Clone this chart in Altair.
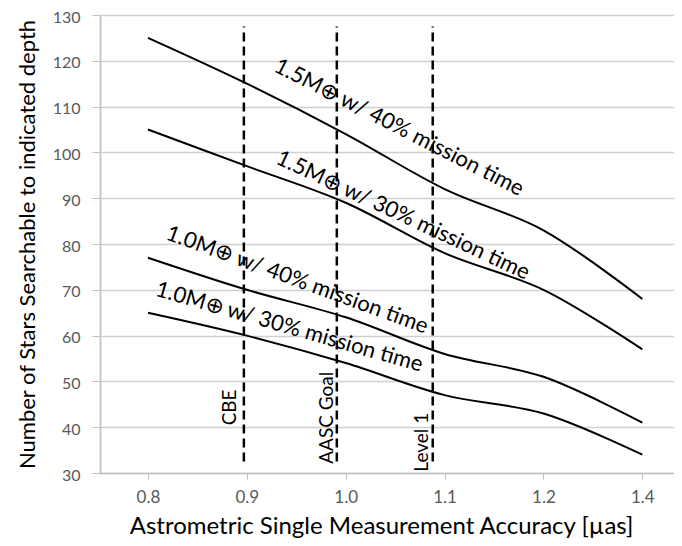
import altair as alt
import pandas as pd

# Categories (evenly spaced categorical axis)
categories = ["0.8", "0.9", "1.0", "1.1", "1.2", "1.4"]
cat_index = [0, 1, 2, 3, 4, 5]

# Series values
s_15_40 = [125, 115, 104, 92, 83, 68]
s_15_30 = [105, 97, 89, 78, 70, 57]
s_10_40 = [77, 70, 64, 56, 51, 41]
s_10_30 = [65, 60, 54, 47, 43, 34]
series_names = ["1.5M⊕ w/ 40% mission time", "1.5M⊕ w/ 30% mission time",
                "1.0M⊕ w/ 40% mission time", "1.0M⊕ w/ 30% mission time"]

# Curve label anchors (category index, value) and angles
label_x = [2.54, 2.58, 1.51, 1.43]
label_y = [105.5, 86.3, 72.2, 61.9]
label_angle = [27, 25, 20, 16]

# Reference lines (category-index position)
ref_names = ["CBE", "AASC Goal", "Level 1"]
ref_x = [0.97, 1.91, 2.88]
ref_y_top = [127.5, 127.5, 127.5]
ref_y_bottom = [32.5, 32.5, 32.5]
ref_label_x = [0.83, 1.807, 2.77]
ref_label_y = [40.4, 32.0, 30.3]

rows = []
for name, vals in zip(series_names, [s_15_40, s_15_30, s_10_40, s_10_30]):
    for i, v in zip(cat_index, vals):
        rows.append({"series": name, "x": i, "y": v})
lines_df = pd.DataFrame(rows)

labels_df = pd.DataFrame({"text": series_names, "x": label_x, "y": label_y, "angle": label_angle})
refs_df = pd.DataFrame({"name": ref_names, "x": ref_x, "y": ref_y_bottom, "y2": ref_y_top,
                        "lx": ref_label_x, "ly": ref_label_y})

FONT = "Lato"
label_expr = "[" + ",".join("'%s'" % c for c in categories) + "][datum.value]"

xscale = alt.Scale(domain=[-0.485, 5.32], nice=False, zero=False)
yscale = alt.Scale(domain=[30, 130], nice=False, zero=False)

x_axis = alt.Axis(values=cat_index, labelExpr=label_expr, title="Astrometric Single Measurement Accuracy [µas]",
                  grid=False, tickSize=6, tickColor="#bfbfbf", domainColor="#bfbfbf", domainWidth=1.5,
                  labelFont=FONT, labelFontSize=17, labelColor="#595959", labelPadding=10,
                  titleFont=FONT, titleFontSize=24, titleFontWeight="normal", titleColor="#000000",
                  titlePadding=9, titleX=281, titleAnchor="middle")
y_axis = alt.Axis(values=list(range(30, 131, 10)), title="Number of Stars Searchable to indicated depth",
                  grid=True, gridColor="#d0d0d0", gridWidth=1.5, tickSize=8, tickColor="#bfbfbf",
                  domainColor="#c8c8c8", domainWidth=2,
                  labelFont=FONT, labelFontSize=16, labelColor="#595959", labelPadding=12,
                  labelOffset=2,
                  titleFont=FONT, titleFontSize=22, titleFontWeight="normal", titleColor="#000000",
                  titlePadding=13)

lines = alt.Chart(lines_df).mark_line(color="black", strokeWidth=2, interpolate="catmull-rom").encode(
    x=alt.X("x:Q", scale=xscale, axis=x_axis),
    y=alt.Y("y:Q", scale=yscale, axis=y_axis),
    detail="series:N",
)

refs = alt.Chart(refs_df).mark_rule(color="black", strokeWidth=2.5, strokeDash=[9, 5]).encode(
    x=alt.X("x:Q", scale=xscale),
    y=alt.Y("y:Q", scale=yscale),
    y2="y2:Q",
)

ref_text = alt.Chart(refs_df).mark_text(angle=270, align="left", baseline="middle",
                                         font=FONT, fontSize=19, color="black").encode(
    x=alt.X("lx:Q", scale=xscale),
    y=alt.Y("ly:Q", scale=yscale),
    text="name:N",
)

curve_text = alt.Chart(labels_df).mark_text(align="center", baseline="middle",
                                             font=FONT, fontSize=22, color="black").encode(
    x=alt.X("x:Q", scale=xscale),
    y=alt.Y("y:Q", scale=yscale),
    angle=alt.Angle("angle:Q", scale=None),
    text="text:N",
)

chart = alt.layer(lines, refs, ref_text, curve_text).properties(
    width=574, height=458,
    autosize=alt.AutoSizeParams(type="none"),
    padding={"left": 92, "top": 7, "right": 0, "bottom": 65},
).configure_view(stroke=None).configure(background="white")

chart.save("out.html", embed_options={"renderer": "svg", "actions": False})
